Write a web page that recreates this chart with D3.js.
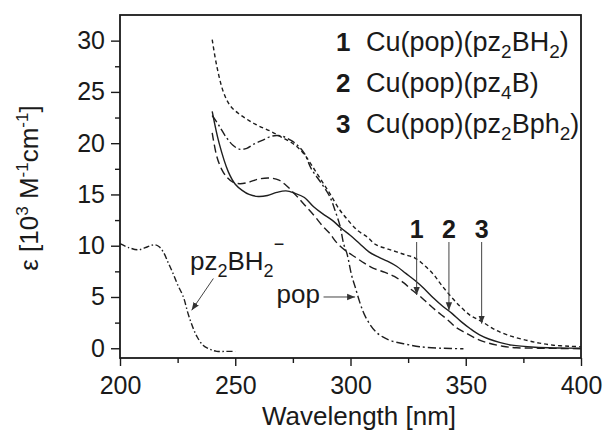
<!DOCTYPE html>
<html>
<head>
<meta charset="utf-8">
<script src="https://cdn.jsdelivr.net/npm/d3@7"></script>
<style>
  body { margin: 0; background: #fff; }
  svg { font-family: "Liberation Sans", Arial, Helvetica, sans-serif; }
  .tick text { font-size: 25px; fill: #1a1a1a; }
  .tick line { stroke: #1a1a1a; stroke-width: 1.4; }
</style>
</head>
<body>
<div id="chart"></div>
<script>
var width = 604, height = 430;

// compound 1  Cu(pop)(pz2BH2)  - long dash
var wl1 = [240, 242, 244, 246.3, 249, 252, 256, 260, 265, 269, 272, 276, 280, 284, 288, 291, 294, 298, 302, 306, 310, 315, 319, 323, 326.5, 330, 333, 337, 342, 346, 350, 355, 360, 366, 372, 385, 400];
var eps1 = [21.0, 18.7, 17.5, 16.7, 16.2, 16.05, 16.2, 16.5, 16.6, 16.4, 15.9, 15.0, 14.0, 13.0, 11.9, 11.2, 10.3, 9.5, 8.9, 8.3, 7.8, 7.4, 7.0, 6.4, 5.7, 5.1, 4.5, 3.7, 2.8, 2.0, 1.5, 0.9, 0.5, 0.2, 0.05, 0, -0.05];

// compound 2  Cu(pop)(pz4B)  - solid
var wl2 = [240, 243, 247, 250, 253, 256, 260, 264, 268, 272, 276, 280, 284, 288, 292, 296, 300, 304, 308, 312, 316, 320, 324, 328, 332, 336, 340, 344, 348, 352, 356, 360, 365, 370, 380, 390, 400];
var eps2 = [23.1, 20.0, 17.2, 16.0, 15.4, 15.0, 14.8, 14.9, 15.2, 15.35, 15.1, 14.7, 13.8, 13.1, 12.5, 11.7, 11.0, 10.2, 9.4, 8.9, 8.5, 8.0, 7.3, 6.6, 5.8, 4.9, 4.1, 3.4, 2.6, 1.9, 1.3, 0.9, 0.55, 0.3, 0.1, 0.03, 0];

// compound 3  Cu(pop)(pz2Bph2)  - short dash
var wl3 = [240, 242, 245, 248, 252, 256, 260, 265, 270, 276, 280, 283, 287, 291, 295, 298.5, 303, 307, 311, 316, 320, 324, 328, 332, 336, 339, 343, 347.5, 352, 357, 362, 368, 376, 382, 388, 395, 400];
var eps3 = [30.1, 27.5, 24.9, 23.6, 22.8, 22.2, 21.7, 21.2, 20.6, 19.8, 18.9, 17.9, 16.5, 15.1, 13.6, 12.6, 11.5, 10.9, 10.1, 9.7, 9.4, 9.1, 8.8, 8.1, 7.2, 6.3, 5.2, 4.1, 3.2, 2.6, 1.9, 1.3, 0.8, 0.5, 0.3, 0.2, 0.15];

// pop ligand - dash dot
var wlPop = [240, 243, 246, 249, 252, 255, 258, 262, 266, 270, 274, 277, 280, 283, 287, 291, 293.5, 295.5, 297, 298.5, 300.5, 302, 304, 306, 308.5, 311, 314, 318, 324, 330, 340, 349];
var epsPop = [22.7, 21.7, 20.6, 19.8, 19.4, 19.5, 19.9, 20.3, 20.7, 20.7, 20.3, 19.8, 19.0, 17.5, 16.2, 14.8, 13.3, 11.9, 10.2, 9.2, 7.1, 6.0, 4.5, 3.3, 2.3, 1.6, 1.1, 0.7, 0.4, 0.15, 0.0, -0.05];

// pz2BH2- anion - dash dot dot
var wlPz = [200, 204, 208, 212, 215, 217, 219, 221, 223, 225, 227.5, 229.5, 231.5, 233.5, 236, 239, 242, 246, 250];
var epsPz = [10.2, 9.8, 9.6, 9.9, 10.1, 9.9, 9.3, 8.3, 7.3, 6.2, 5.0, 3.4, 2.1, 1.1, 0.3, -0.1, -0.3, -0.3, -0.3];

var xMajor = [200, 250, 300, 350, 400];
var xMinor = [225, 275, 325, 375];
var yMajor = [0, 5, 10, 15, 20, 25, 30];
var yMinor = [2.5, 7.5, 12.5, 17.5, 22.5, 27.5];

// arrows: [label, wavelength, eps at tip]
var arrowNums = ["1", "2", "3"];
var arrowWl = [328.7, 342.7, 356.9];
var arrowTip = [5.2, 3.7, 2.4];

var x = d3.scaleLinear().domain([200, 400]).range([120, 581]);
var y = d3.scaleLinear().domain([-0.95, 32.5]).range([358, 15]);

var svg = d3.select("#chart").append("svg")
  .attr("width", width)
  .attr("height", height);

var ink = "#1a1a1a";

svg.append("defs").append("marker")
  .attr("id", "head")
  .attr("viewBox", "0 0 10 10")
  .attr("refX", 10).attr("refY", 5)
  .attr("markerWidth", 8).attr("markerHeight", 8)
  .attr("markerUnits", "userSpaceOnUse")
  .attr("orient", "auto")
  .append("path")
  .attr("d", "M0,1 L10,5 L0,9 Z")
  .attr("fill", "#333");

// axes
var gx = svg.append("g").attr("transform", "translate(0,358)")
  .call(d3.axisBottom(x).tickValues(xMajor).tickSize(8).tickPadding(10).tickFormat(d3.format("d")));
var gxm = svg.append("g").attr("transform", "translate(0,358)")
  .call(d3.axisBottom(x).tickValues(xMinor).tickSize(5).tickFormat(""));
var gy = svg.append("g").attr("transform", "translate(120,0)")
  .call(d3.axisLeft(y).tickValues(yMajor).tickSize(9).tickPadding(6).tickFormat(d3.format("d")));
var gym = svg.append("g").attr("transform", "translate(120,0)")
  .call(d3.axisLeft(y).tickValues(yMinor).tickSize(5).tickFormat(""));
[gx, gxm, gy, gym].forEach(function(g) { g.select(".domain").remove(); });
gx.selectAll("text").attr("dy", "0.71em");

svg.append("rect")
  .attr("x", 120).attr("y", 15)
  .attr("width", 461).attr("height", 343)
  .attr("fill", "none")
  .attr("stroke", ink)
  .attr("stroke-width", 1.8);

// curves
var series = [
  { wl: wl1, eps: eps1, dash: "8,4" },
  { wl: wl2, eps: eps2, dash: null },
  { wl: wl3, eps: eps3, dash: "4,3" },
  { wl: wlPop, eps: epsPop, dash: "8,3,2,3" },
  { wl: wlPz, eps: epsPz, dash: "6,2.5,1.5,2.5" }
];

var line = d3.line()
  .x(function(d) { return x(d[0]); })
  .y(function(d) { return y(d[1]); })
  .curve(d3.curveCatmullRom);

series.forEach(function(s) {
  var pts = s.wl.map(function(w, i) { return [w, s.eps[i]]; });
  svg.append("path")
    .attr("d", line(pts))
    .attr("fill", "none")
    .attr("stroke", "#1e1e1e")
    .attr("stroke-width", 1.4)
    .attr("stroke-dasharray", s.dash);
});

// numbered arrows
arrowNums.forEach(function(n, i) {
  svg.append("line")
    .attr("x1", x(arrowWl[i])).attr("x2", x(arrowWl[i]))
    .attr("y1", 242).attr("y2", y(arrowTip[i]))
    .attr("stroke", "#444").attr("stroke-width", 1)
    .attr("marker-end", "url(#head)");
  svg.append("text")
    .attr("x", x(arrowWl[i])).attr("y", 238)
    .attr("text-anchor", "middle")
    .attr("font-size", 25).attr("font-weight", "bold")
    .attr("fill", ink)
    .text(n);
});

// pop label + arrow
svg.append("text")
  .attr("x", 320).attr("y", 303)
  .attr("text-anchor", "end")
  .attr("font-size", 26).attr("fill", ink)
  .text("pop");
svg.append("line")
  .attr("x1", x(288.3)).attr("x2", x(302))
  .attr("y1", y(5.0)).attr("y2", y(5.0))
  .attr("stroke", "#444").attr("stroke-width", 1)
  .attr("marker-end", "url(#head)");

// pz2BH2- label + arrow
var pzLabel = svg.append("text")
  .attr("x", 190).attr("y", 270)
  .attr("font-size", 26).attr("fill", ink);
pzLabel.append("tspan").text("pz");
pzLabel.append("tspan").attr("font-size", 18).attr("dy", 7).text("2");
pzLabel.append("tspan").attr("dy", -7).text("BH");
pzLabel.append("tspan").attr("font-size", 18).attr("dy", 7).text("2");
pzLabel.append("tspan").attr("font-size", 18).attr("dy", -27).text("\u2212");
svg.append("line")
  .attr("x1", x(240.5)).attr("x2", x(231.1))
  .attr("y1", y(6.8)).attr("y2", y(3.7))
  .attr("stroke", "#444").attr("stroke-width", 1)
  .attr("marker-end", "url(#head)");

// legend
var legNums = ["1", "2", "3"];
var legParts = [
  [["Cu(pop)(pz", 0], ["2", 1], ["BH", 0], ["2", 1], [")", 0]],
  [["Cu(pop)(pz", 0], ["4", 1], ["B)", 0]],
  [["Cu(pop)(pz", 0], ["2", 1], ["Bph", 0], ["2", 1], [")", 0]]
];
var legY = [51, 92, 133];

legNums.forEach(function(n, i) {
  svg.append("text")
    .attr("x", 336).attr("y", legY[i])
    .attr("font-size", 26).attr("font-weight", "bold").attr("fill", ink)
    .text(n);
  var t = svg.append("text")
    .attr("x", 366).attr("y", legY[i])
    .attr("font-size", 27).attr("fill", ink);
  var sub = 0;
  legParts[i].forEach(function(p) {
    var shift = (p[1] ? 7 : 0) - sub;
    sub = p[1] ? 7 : 0;
    t.append("tspan")
      .attr("dy", shift)
      .attr("font-size", p[1] ? 19 : 27)
      .text(p[0]);
  });
});

// axis titles
svg.append("text")
  .attr("x", 359).attr("y", 425)
  .attr("text-anchor", "middle")
  .attr("font-size", 26).attr("fill", ink)
  .text("Wavelength [nm]");

var yt = svg.append("text")
  .attr("transform", "translate(38,188) rotate(-90)")
  .attr("text-anchor", "middle")
  .attr("font-size", 26).attr("fill", ink);
yt.append("tspan").text("\u03b5 [10");
yt.append("tspan").attr("font-size", 17).attr("dy", -10).text("3");
yt.append("tspan").attr("dy", 10).text(" M");
yt.append("tspan").attr("font-size", 17).attr("dy", -10).text("-1");
yt.append("tspan").attr("dy", 10).text("cm");
yt.append("tspan").attr("font-size", 17).attr("dy", -10).text("-1");
yt.append("tspan").attr("dy", 10).text("]");
</script>
</body>
</html>
